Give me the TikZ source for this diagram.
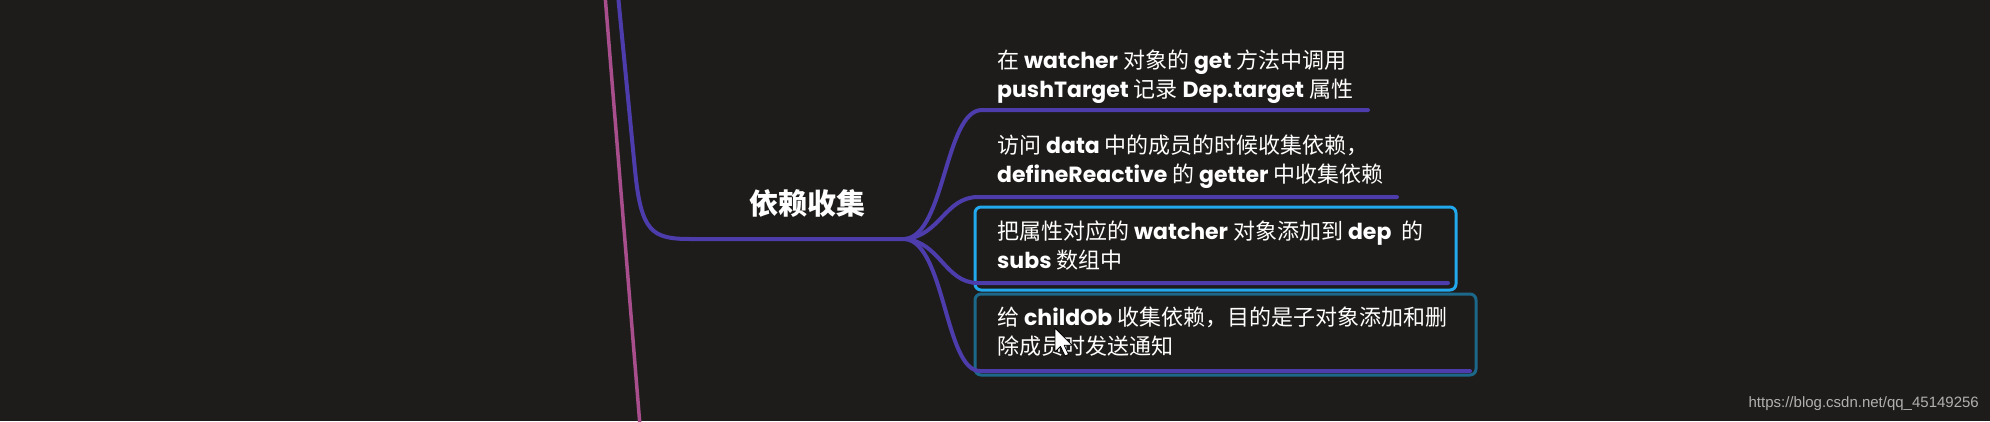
\documentclass[tikz,border=0pt]{standalone}
\usepackage{fontspec}
\setmainfont{Noto Sans CJK SC}
\newfontfamily\pop{Poppins}
\newfontfamily\wmfont{Liberation Sans}
\newcommand\wb[1]{{\pop\bfseries #1}}
\definecolor{bgc}{RGB}{30,28,26}
\definecolor{purp}{RGB}{76,60,172}
\definecolor{pinkl}{RGB}{168,78,140}
\definecolor{cyanb}{RGB}{34,168,236}
\definecolor{tealb}{RGB}{28,104,138}
\definecolor{wm}{RGB}{176,176,176}
\tikzset{
  branch/.style={draw=purp,line width=4pt,line cap=round},
  leaf/.style={anchor=base west,inner sep=0pt,align=left,text=white,font=\fontsize{22}{29}\selectfont},
  hbox/.style={rounded corners=6pt,line width=3pt},
}
\begin{document}
\begin{tikzpicture}[x=1pt,y=-1pt]
\fill[bgc] (0,0) rectangle (1990,421);
\useasboundingbox (0,0) rectangle (1990,421);

% boxes
\draw[hbox,draw=cyanb] (975,207) rectangle (1456,290);
\draw[hbox,draw=tealb] (975,294) rectangle (1476,375);

% pink line
\draw[draw=pinkl,line width=3.5pt] (605,-5) -- (640,426);

% coordinates
\coordinate (top) at (618,-5);
\coordinate (junc) at (905,239);
\coordinate (e1a) at (982,110); \coordinate (e1b) at (1368,110);
\coordinate (e2a) at (978,197); \coordinate (e2b) at (1397,197);
\coordinate (e3a) at (978,283); \coordinate (e3b) at (1448,283);
\coordinate (e4a) at (980,371); \coordinate (e4b) at (1470,371);

% main branch
\draw[branch] (top) -- (635,170) .. controls (641,232) and (652,239) .. (690,239) -- (junc);

% sub branches
\draw[branch] (junc) .. controls (945,235) and (945,110) .. (e1a) -- (e1b);
\draw[branch] (junc) .. controls (940,236) and (945,197) .. (e2a) -- (e2b);
\draw[branch] (junc) .. controls (940,242) and (945,283) .. (e3a) -- (e3b);
\draw[branch] (junc) .. controls (945,243) and (945,371) .. (e4a) -- (e4b);

% central label
\node[text=white,font=\fontsize{29}{34}\selectfont\bfseries] (root) at (807,203) {依赖收集};

% leaves (anchor = baseline of last line)
\node[leaf] (n1) at (997,97) {在 \wb{watcher} 对象的 \wb{get} 方法中调用\\\wb{pushTarget} 记录 \wb{Dep.target} 属性};
\node[leaf] (n2) at (997,182) {访问 \wb{data} 中的成员的时候收集依赖，\\\wb{defineReactive} 的 \wb{getter} 中收集依赖};
\node[leaf] (n3) at (997,268) {把属性对应的 \wb{watcher} 对象添加到 \wb{dep}\ \ 的\\\wb{subs} 数组中};
\node[leaf] (n4) at (997,354) {给 \wb{childOb} 收集依赖，目的是子对象添加和删\\除成员时发送通知};

% cursor
\filldraw[fill=white,draw=black,line width=0.8pt,line join=round]
  (1055,328) -- ++(0,24) -- ++(5.5,-5.5) -- ++(4.5,9.5) -- ++(3.5,-1.6) -- ++(-4.3,-9.2) -- ++(7.8,0) -- cycle;

% watermark
\node[anchor=base east,inner sep=0pt,text=wm,font=\wmfont\fontsize{15}{17}\selectfont] (wmk) at (1979,407) {https://blog.csdn.net/qq\_45149256};
\end{tikzpicture}
\end{document}
